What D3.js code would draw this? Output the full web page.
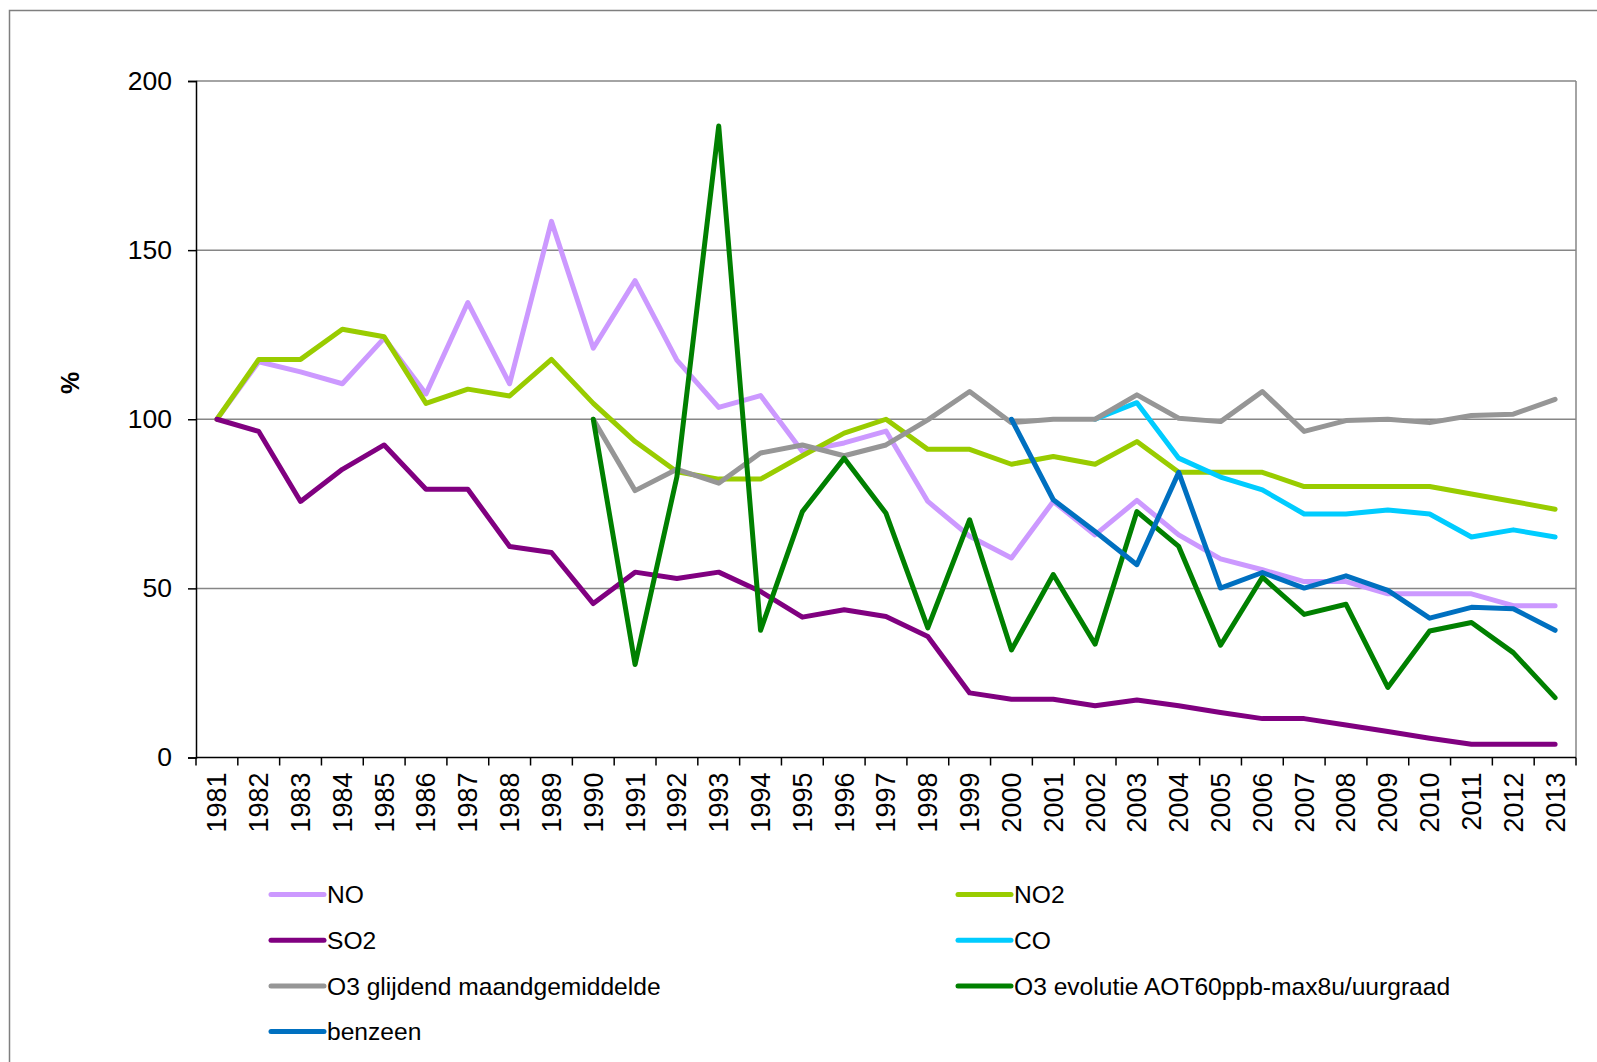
<!DOCTYPE html>
<html>
<head>
<meta charset="utf-8">
<script src="https://cdn.jsdelivr.net/npm/d3@7"></script>
<style>
  body { margin: 0; background: #fff; }
  svg text { font-family: "Liberation Sans", Arial, sans-serif; fill: #000; }
</style>
</head>
<body>
<svg id="chart" width="1597" height="1062"></svg>
<script>
'use strict';

var years = ['1981','1982','1983','1984','1985','1986','1987','1988','1989','1990',
  '1991','1992','1993','1994','1995','1996','1997','1998','1999','2000',
  '2001','2002','2003','2004','2005','2006','2007','2008','2009','2010',
  '2011','2012','2013'];

var yTicks = [0, 50, 100, 150, 200];

var seriesNames = ['NO', 'NO2', 'SO2', 'CO', 'O3 glijdend maandgemiddelde',
  'O3 evolutie AOT60ppb-max8u/uurgraad', 'benzeen'];
var seriesColors = ['#cc99ff', '#99cc00', '#800080', '#00ccff', '#969696', '#008000', '#0070c0'];

var noValues = [100, 117, 114, 110.5, 124, 107.5, 134.5, 110.5, 158.5, 121,
  141, 117.5, 103.5, 107, 90.5, 93, 96.5, 75.7, 65.4, 59,
  75.7, 65.8, 76, 65.8, 58.7, 55.5, 52, 52, 48.4, 48.4,
  48.4, 44.9, 44.9];
var no2Values = [100, 117.7, 117.7, 126.6, 124.4, 104.7, 108.9, 106.9, 117.7, 104.7,
  93.4, 84.5, 82.3, 82.3, 89.2, 95.9, 100, 91.1, 91.1, 86.7,
  89, 86.7, 93.4, 84.3, 84.3, 84.3, 80.1, 80.1, 80.1, 80.1,
  77.9, 75.7, 73.4];
var so2Values = [100, 96.4, 75.7, 85.2, 92.4, 79.3, 79.3, 62.4, 60.6, 45.5,
  54.8, 52.9, 54.8, 49.1, 41.5, 43.7, 41.7, 35.8, 19.1, 17.2,
  17.2, 15.3, 17, 15.3, 13.3, 11.5, 11.5, 9.6, 7.7, 5.7,
  3.9, 3.9, 3.9];
var coValues = [null, null, null, null, null, null, null, null, null, null,
  null, null, null, null, null, null, null, null, null, null,
  null, 100, 104.9, 88.5, 82.9, 79.1, 72, 72, 73.2, 72,
  65.2, 67.3, 65.2];
var o3GlijdendValues = [null, null, null, null, null, null, null, null, null, 100,
  78.9, 85.2, 81.1, 90, 92.4, 89.2, 92.4, 99.8, 108.2, 99,
  100, 100, 107.2, 100.3, 99.3, 108.2, 96.4, 99.6, 100, 99,
  101.1, 101.5, 105.9];
var o3AotValues = [null, null, null, null, null, null, null, null, null, 100,
  27.5, 83, 186.7, 37.6, 72.7, 88.5, 72.2, 38.3, 70.3, 31.8,
  54.1, 33.5, 72.7, 62.4, 33.2, 53.3, 42.3, 45.3, 20.7, 37.4,
  39.9, 31, 17.7];
var benzeenValues = [null, null, null, null, null, null, null, null, null, null,
  null, null, null, null, null, null, null, null, null, 100,
  76.2, 66.8, 57, 84.3, 50.1, 54.7, 50.1, 53.7, 49.4, 41.2,
  44.4, 44, 37.6];

var allValues = [noValues, no2Values, so2Values, coValues, o3GlijdendValues, o3AotValues, benzeenValues];

var svg = d3.select('#chart');

// outer frame (right and bottom edges fall outside the picture)
svg.append('rect')
  .attr('x', 9.5).attr('y', 10.5)
  .attr('width', 1600).attr('height', 1070)
  .attr('fill', 'none').attr('stroke', '#7f7f7f').attr('stroke-width', 1.5);

var plotLeft = 196, plotRight = 1576, plotTop = 81, plotBottom = 757.5;

var x = d3.scaleBand().domain(years).range([plotLeft, plotRight]);
var y = d3.scaleLinear().domain([0, 200]).range([plotBottom, plotTop]);

function cx(yr) { return x(yr) + x.bandwidth() / 2; }

// gridlines
svg.append('g').selectAll('line')
  .data(yTicks.filter(function(t) { return t > 0; }))
  .enter().append('line')
    .attr('x1', plotLeft).attr('x2', plotRight)
    .attr('y1', function(d) { return y(d); })
    .attr('y2', function(d) { return y(d); })
    .attr('stroke', '#868686').attr('stroke-width', 1.5);

// right edge of plot area
svg.append('line')
  .attr('x1', plotRight).attr('x2', plotRight).attr('y1', plotTop).attr('y2', plotBottom)
  .attr('stroke', '#868686').attr('stroke-width', 1.5);

// y axis
var yAxis = svg.append('g')
  .attr('transform', 'translate(' + plotLeft + ',0)')
  .call(d3.axisLeft(y).tickValues(yTicks).tickSize(8).tickPadding(16));
yAxis.select('.domain').attr('stroke', '#000').attr('stroke-width', 1.5);
yAxis.selectAll('.tick line').attr('stroke', '#000').attr('stroke-width', 1.5);
yAxis.selectAll('text').style('font-size', '26.5px').attr('fill', '#000');

// x axis: line, ticks at category edges, rotated labels
svg.append('line')
  .attr('x1', plotLeft).attr('x2', plotRight).attr('y1', plotBottom).attr('y2', plotBottom)
  .attr('stroke', '#000').attr('stroke-width', 1.5);

var edges = years.map(function(d) { return x(d); }).concat([plotRight]);
svg.append('g').selectAll('line')
  .data(edges)
  .enter().append('line')
    .attr('x1', function(d) { return d; })
    .attr('x2', function(d) { return d; })
    .attr('y1', plotBottom).attr('y2', plotBottom + 8)
    .attr('stroke', '#000').attr('stroke-width', 1.5);

svg.append('g').selectAll('text')
  .data(years)
  .enter().append('text')
    .attr('transform', function(d) { return 'translate(' + cx(d) + ',' + (plotBottom + 15) + ') rotate(-90)'; })
    .attr('dy', '0.35em')
    .attr('text-anchor', 'end')
    .style('font-size', '27px')
    .text(function(d) { return d; });

// y title
svg.append('text')
  .attr('transform', 'translate(70,383) rotate(-90)')
  .attr('dy', '0.35em')
  .attr('text-anchor', 'middle')
  .style('font-size', '25px')
  .style('font-weight', 'bold')
  .text('%');

// series lines
var line = d3.line()
  .defined(function(d) { return d.v !== null; })
  .x(function(d) { return cx(d.year); })
  .y(function(d) { return y(d.v); });

for (var i = 0; i < allValues.length; i++) {
  var pts = years.map(function(yr, k) { return { year: yr, v: allValues[i][k] }; });
  svg.append('path')
    .datum(pts)
    .attr('d', line)
    .attr('fill', 'none')
    .attr('stroke', seriesColors[i])
    .attr('stroke-width', 5)
    .attr('stroke-linejoin', 'round')
    .attr('stroke-linecap', 'round');
}

// legend, two columns
var legend = svg.append('g').selectAll('g')
  .data(seriesNames)
  .enter().append('g')
    .attr('transform', function(d, k) {
      var col = k % 2, row = Math.floor(k / 2);
      return 'translate(' + (col === 0 ? 271 : 958) + ',' + (894.5 + row * 45.7) + ')';
    });

legend.append('line')
  .attr('x1', 0).attr('x2', 53).attr('y1', 0).attr('y2', 0)
  .attr('stroke', function(d, k) { return seriesColors[k]; })
  .attr('stroke-width', 5)
  .attr('stroke-linecap', 'round');

legend.append('text')
  .attr('x', 56)
  .attr('dy', '0.35em')
  .style('font-size', '24.6px')
  .text(function(d) { return d; });
</script>
</body>
</html>
